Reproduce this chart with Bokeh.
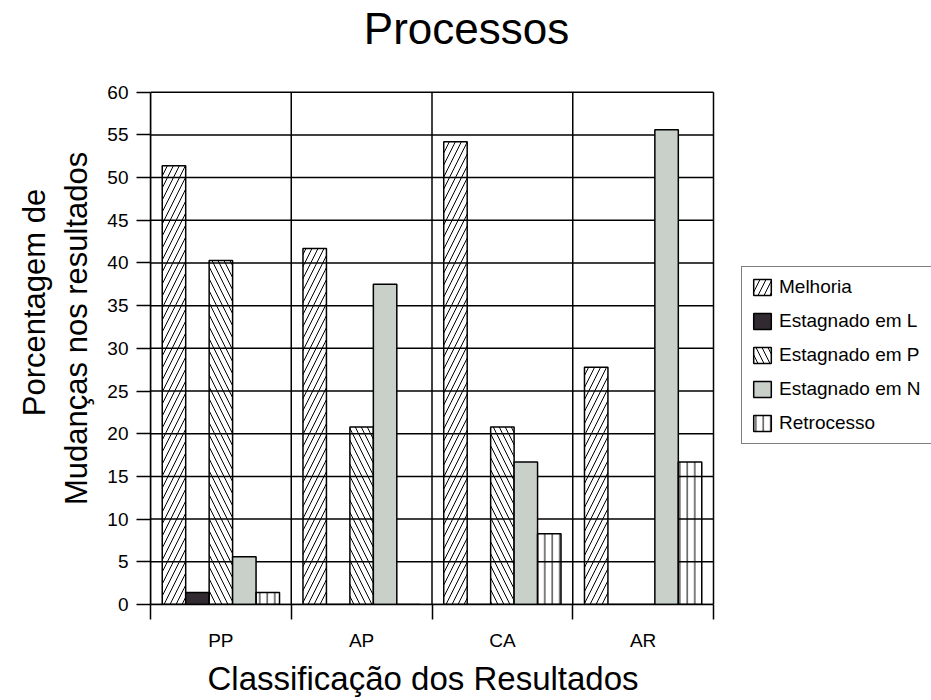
from bokeh.plotting import figure
from bokeh.models import FixedTicker, Range1d, Legend, LegendItem, ColumnDataSource, Title, Label
from bokeh.transform import dodge
from bokeh.embed import file_html
from bokeh.resources import INLINE

categories = ["PP", "AP", "CA", "AR"]
melhoria = [51.4, 41.7, 54.2, 27.8]
estag_l = [1.4, 0.0, 0.0, 0.0]
estag_p = [40.3, 20.8, 20.8, 0.0]
estag_n = [5.6, 37.5, 16.7, 55.6]
retrocesso = [1.4, 0.0, 8.3, 16.7]
series_names = ["Melhoria", "Estagnado em L", "Estagnado em P", "Estagnado em N", "Retrocesso"]
y_ticks = list(range(0, 61, 5))
Y_MAX = 60

FONT = "Liberation Sans"
n = len(categories)
centers = [i + 0.5 for i in range(n)]
bounds = list(range(n + 1))

# layout (pixels): chart box 150..713 x 92..606; the frame runs on to the right
# and top edges so the legend and the title can sit outside the chart box
W, H = 931, 700
LEFT, CHART_RIGHT, TOP, BOTTOM = 150, 713, 92, 606
px_x = (CHART_RIGHT - LEFT) / n          # pixels per category
px_y = (BOTTOM - TOP) / Y_MAX            # pixels per unit
x_end = (W - LEFT) / px_x
y_end = BOTTOM / px_y

source = ColumnDataSource(dict(
    x=centers, cat=categories,
    melhoria=melhoria, estag_l=estag_l, estag_p=estag_p,
    estag_n=estag_n, retrocesso=retrocesso,
))

p = figure(width=W, height=H, output_backend="svg", toolbar_location=None,
           x_range=Range1d(0, x_end), y_range=Range1d(0, y_end),
           min_border_left=LEFT, min_border_right=0, min_border_top=0,
           min_border_bottom=H - BOTTOM, background_fill_color="white",
           border_fill_color="white")
p.outline_line_color = None
p.grid.visible = False

# title
TITLE_CX, TITLE_BASE = 466, 28
p.add_layout(Label(x=(TITLE_CX - LEFT) / px_x, y=(BOTTOM - TITLE_BASE) / px_y,
                   text="Processos", text_align="center", text_baseline="alphabetic",
                   text_font=FONT, text_font_size="44px", text_color="black"))

# grid / chart box
p.segment(x0=0, x1=n, y0=y_ticks, y1=y_ticks, line_color="black", line_width=1.5)
p.segment(x0=bounds, x1=bounds, y0=0, y1=Y_MAX, line_color="black", line_width=1.5)

w = 1.0 / 6.0
styles = [
    dict(field="melhoria", fill_color="white", fill_alpha=0, hatch_pattern="/", hatch_scale=12),
    dict(field="estag_l", fill_color="#312b31", fill_alpha=1, hatch_pattern=None, hatch_scale=8),
    dict(field="estag_p", fill_color="white", fill_alpha=0, hatch_pattern="\\", hatch_scale=12),
    dict(field="estag_n", fill_color="#c9d0ca", fill_alpha=1, hatch_pattern=None, hatch_scale=8),
    dict(field="retrocesso", fill_color="white", fill_alpha=0, hatch_pattern="|", hatch_scale=7.5),
]

items = []
for k, (name, st) in enumerate(zip(series_names, styles)):
    kwargs = dict(x=dodge("x", (k - 2) * w, range=p.x_range), top=st["field"], bottom=0,
                  width=w, source=source, fill_color=st["fill_color"],
                  fill_alpha=st["fill_alpha"], line_color="black", line_width=1.5)
    if st["hatch_pattern"]:
        kwargs.update(hatch_pattern=st["hatch_pattern"], hatch_color="black",
                      hatch_weight=1, hatch_scale=st["hatch_scale"])
    r = p.vbar(**kwargs)
    items.append(LegendItem(label=name, renderers=[r]))

legend = Legend(items=items, location=(591, 160))
legend.label_text_font = FONT
legend.label_text_font_size = "19px"
legend.label_text_color = "black"
legend.glyph_width = 22
legend.glyph_height = 20
legend.label_height = 20
legend.label_width = 220
legend.spacing = 12
legend.padding = 9
legend.margin = 0
legend.label_standoff = 6
legend.border_line_color = "black"
legend.border_line_width = 1.5
legend.background_fill_color = "white"
legend.background_fill_alpha = 1.0
p.add_layout(legend, "center")

# y axis (trailing non-breaking spaces lower the second line a little)
NB = "\u00a0"
p.yaxis.bounds = (0, Y_MAX)
p.yaxis.ticker = FixedTicker(ticks=y_ticks)
p.yaxis.axis_label = "Porcentagem de\nMudanças nos resultados" + NB * 6
p.yaxis.axis_label_text_font = FONT
p.yaxis.axis_label_text_font_size = "31px"
p.yaxis.axis_label_text_font_style = "normal"
p.yaxis.axis_label_text_color = "black"
p.yaxis.axis_label_standoff = 10
p.yaxis.major_label_text_font = FONT
p.yaxis.major_label_text_font_size = "19px"
p.yaxis.major_label_text_color = "black"
p.yaxis.major_label_standoff = 8
p.yaxis.major_tick_out = 14
p.yaxis.major_tick_in = 0
p.yaxis.major_tick_line_color = "black"
p.yaxis.major_tick_line_width = 1.5
p.yaxis.axis_line_color = "black"
p.yaxis.axis_line_width = 1.5

# x axis
p.xaxis.bounds = (0, n)
p.xaxis.ticker = FixedTicker(ticks=centers, minor_ticks=bounds)
p.xaxis.major_label_overrides = {c: lab for c, lab in zip(centers, categories)}
p.xaxis.major_label_text_font = FONT
p.xaxis.major_label_text_font_size = "19px"
p.xaxis.major_label_text_color = "black"
p.xaxis.major_label_standoff = 10
p.xaxis.major_tick_out = 15
p.xaxis.major_tick_in = 0
p.xaxis.major_tick_line_color = None
p.xaxis.minor_tick_out = 15
p.xaxis.minor_tick_in = 0
p.xaxis.minor_tick_line_color = "black"
p.xaxis.minor_tick_line_width = 1.5
p.xaxis.axis_line_color = "black"
p.xaxis.axis_line_width = 1.5

xlabel = Title(text="Classificação dos Resultados", align="left", offset=57,
               text_font=FONT, text_font_size="33px", text_font_style="normal",
               text_color="black", standoff=8)
p.add_layout(xlabel, "below")

open("out.html", "w").write(file_html(p, INLINE))
